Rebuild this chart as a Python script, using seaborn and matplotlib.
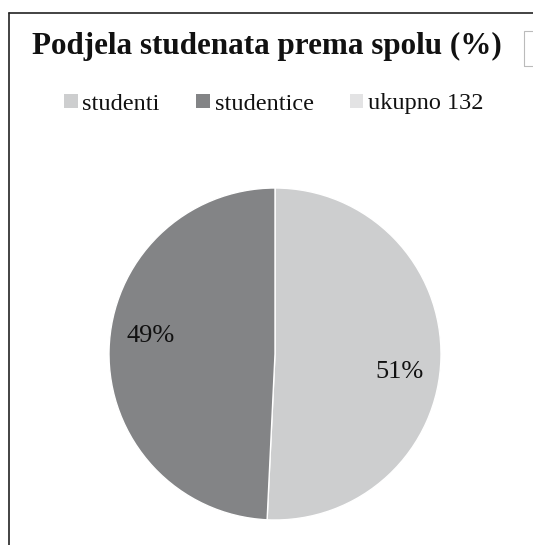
import matplotlib
matplotlib.use('Agg')
import matplotlib.pyplot as plt
from matplotlib.lines import Line2D
from matplotlib.patches import Rectangle
import numpy as np
import seaborn as sns

# data (132 students in total)
categories = ['studenti', 'studentice']
counts = [67, 65]
legend_labels = ['studenti', 'studentice', 'ukupno 132']
colours = ['#cdcecf', '#838486', '#e3e3e4']

sns.set_theme(style='white')
plt.rcParams['font.family'] = ['Liberation Serif', 'DejaVu Serif']

fig = plt.figure(figsize=(5.33, 5.45), dpi=100)
fig.patch.set_facecolor('white')

# pie area
ax = fig.add_axes([109 / 533, 25 / 545, 332 / 533, 332 / 545])
wedges, texts, autotexts = ax.pie(counts, colors=colours[:2], startangle=90, counterclock=False,
                                  autopct='%1.0f%%', pctdistance=0.76,
                                  textprops={'fontsize': 19, 'color': '#111111'})
# excel puts the data labels a little further round (clockwise) than the wedge middle
rot = np.deg2rad(-7)
for t in autotexts:
    x, y = t.get_position()
    t.set_position((x * np.cos(rot) - y * np.sin(rot), x * np.sin(rot) + y * np.cos(rot)))
ax.set_xlim(-1, 1)
ax.set_ylim(-1, 1)
ax.set_aspect('equal')
ax.axis('off')

# title + legend
fig.text(267 / 533, 1 - 46 / 545, 'Podjela studenata prema spolu (%)', ha='center', va='center',
         fontsize=22.4, fontweight='bold', color='#111111')
handles = [Rectangle((0, 0), 1, 1, facecolor=c, edgecolor='none') for c in colours]
fig.legend(handles, legend_labels, loc='center', bbox_to_anchor=(274 / 533, 1 - 104 / 545), ncol=3,
           frameon=False, fontsize=17.5, handlelength=0.55, handleheight=0.55, handletextpad=0.2,
           columnspacing=1.5, labelcolor='#111111')

# chart frame (partially visible) and the stray box next to the title
fig.add_artist(Line2D([9 / 533, 1], [1 - 13 / 545, 1 - 13 / 545], color='#222222', lw=1.2))
fig.add_artist(Line2D([9 / 533, 9 / 533], [0, 1 - 13 / 545], color='#222222', lw=1.2))
fig.add_artist(Rectangle((524 / 533, 1 - 66 / 545), 0.05, 35 / 545, facecolor='none',
                         edgecolor='#bbbbbb', lw=0.8))

fig.savefig('out.png', dpi=100)
